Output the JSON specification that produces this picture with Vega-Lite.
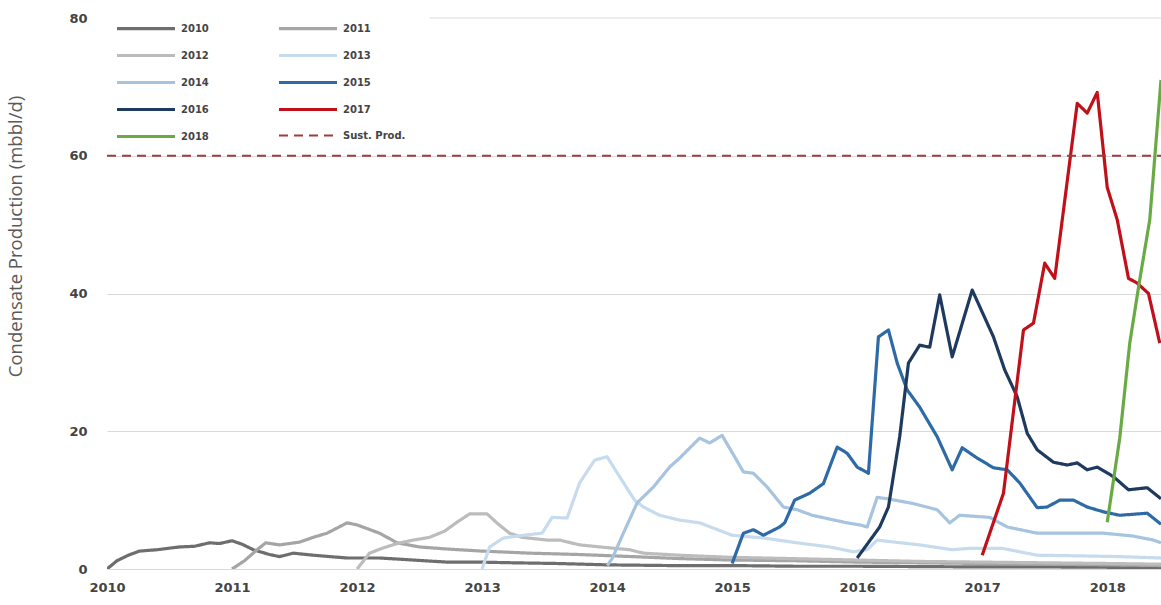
{
"$schema": "https://vega.github.io/schema/vega-lite/v6.json",
"width": 1054, "height": 551,
"autosize": {"type": "none"},
"padding": {"left": 107, "top": 18, "right": 0, "bottom": 36},
"background": "white",
"config": {"view": {"stroke": null}},
"datasets": {
"d": [
{"s":"2010","t":2010.0,"v":0},{"s":"2010","t":2010.08,"v":1.2},{"s":"2010","t":2010.17,"v":2.0},{"s":"2010","t":2010.26,"v":2.6},{"s":"2010","t":2010.4,"v":2.8},{"s":"2010","t":2010.58,"v":3.2},{"s":"2010","t":2010.7,"v":3.3},{"s":"2010","t":2010.82,"v":3.8},{"s":"2010","t":2010.9,"v":3.7},{"s":"2010","t":2011.0,"v":4.1},{"s":"2010","t":2011.08,"v":3.6},{"s":"2010","t":2011.17,"v":2.8},{"s":"2010","t":2011.3,"v":2.1},{"s":"2010","t":2011.38,"v":1.8},{"s":"2010","t":2011.49,"v":2.3},{"s":"2010","t":2011.65,"v":2.0},{"s":"2010","t":2011.92,"v":1.6},{"s":"2010","t":2012.18,"v":1.6},{"s":"2010","t":2012.45,"v":1.3},{"s":"2010","t":2012.72,"v":1.0},{"s":"2010","t":2012.98,"v":1.0},{"s":"2010","t":2013.25,"v":0.9},{"s":"2010","t":2013.6,"v":0.8},{"s":"2010","t":2014.0,"v":0.6},{"s":"2010","t":2014.5,"v":0.5},{"s":"2010","t":2015.0,"v":0.5},{"s":"2010","t":2015.5,"v":0.4},{"s":"2010","t":2016.0,"v":0.4},{"s":"2010","t":2016.5,"v":0.35},{"s":"2010","t":2017.0,"v":0.3},{"s":"2010","t":2017.5,"v":0.3},{"s":"2010","t":2018.0,"v":0.25},{"s":"2010","t":2018.43,"v":0.2},
{"s":"2011","t":2011.0,"v":0},{"s":"2011","t":2011.1,"v":1.2},{"s":"2011","t":2011.2,"v":2.8},{"s":"2011","t":2011.27,"v":3.8},{"s":"2011","t":2011.38,"v":3.5},{"s":"2011","t":2011.54,"v":3.9},{"s":"2011","t":2011.65,"v":4.6},{"s":"2011","t":2011.76,"v":5.2},{"s":"2011","t":2011.92,"v":6.7},{"s":"2011","t":2012.0,"v":6.4},{"s":"2011","t":2012.18,"v":5.2},{"s":"2011","t":2012.32,"v":3.8},{"s":"2011","t":2012.5,"v":3.2},{"s":"2011","t":2012.72,"v":2.9},{"s":"2011","t":2013.0,"v":2.6},{"s":"2011","t":2013.38,"v":2.3},{"s":"2011","t":2013.78,"v":2.1},{"s":"2011","t":2014.2,"v":1.8},{"s":"2011","t":2014.6,"v":1.5},{"s":"2011","t":2015.0,"v":1.3},{"s":"2011","t":2015.5,"v":1.2},{"s":"2011","t":2016.0,"v":1.0},{"s":"2011","t":2016.5,"v":0.9},{"s":"2011","t":2017.0,"v":0.8},{"s":"2011","t":2017.5,"v":0.7},{"s":"2011","t":2018.0,"v":0.6},{"s":"2011","t":2018.43,"v":0.5},
{"s":"2012","t":2012.0,"v":0},{"s":"2012","t":2012.1,"v":2.3},{"s":"2012","t":2012.2,"v":3.0},{"s":"2012","t":2012.32,"v":3.7},{"s":"2012","t":2012.45,"v":4.2},{"s":"2012","t":2012.58,"v":4.6},{"s":"2012","t":2012.7,"v":5.5},{"s":"2012","t":2012.8,"v":6.8},{"s":"2012","t":2012.9,"v":8.0},{"s":"2012","t":2013.04,"v":8.0},{"s":"2012","t":2013.13,"v":6.5},{"s":"2012","t":2013.22,"v":5.2},{"s":"2012","t":2013.32,"v":4.6},{"s":"2012","t":2013.52,"v":4.2},{"s":"2012","t":2013.62,"v":4.2},{"s":"2012","t":2013.78,"v":3.5},{"s":"2012","t":2014.0,"v":3.1},{"s":"2012","t":2014.18,"v":2.8},{"s":"2012","t":2014.29,"v":2.3},{"s":"2012","t":2014.58,"v":2.0},{"s":"2012","t":2014.98,"v":1.7},{"s":"2012","t":2015.5,"v":1.5},{"s":"2012","t":2016.0,"v":1.3},{"s":"2012","t":2016.5,"v":1.1},{"s":"2012","t":2017.0,"v":1.0},{"s":"2012","t":2017.5,"v":0.9},{"s":"2012","t":2018.0,"v":0.8},{"s":"2012","t":2018.43,"v":0.7},
{"s":"2013","t":2013.0,"v":0},{"s":"2013","t":2013.06,"v":3.2},{"s":"2013","t":2013.17,"v":4.5},{"s":"2013","t":2013.33,"v":4.9},{"s":"2013","t":2013.48,"v":5.2},{"s":"2013","t":2013.56,"v":7.5},{"s":"2013","t":2013.68,"v":7.4},{"s":"2013","t":2013.78,"v":12.5},{"s":"2013","t":2013.9,"v":15.8},{"s":"2013","t":2014.0,"v":16.3},{"s":"2013","t":2014.1,"v":13.4},{"s":"2013","t":2014.22,"v":10},{"s":"2013","t":2014.29,"v":9},{"s":"2013","t":2014.42,"v":7.8},{"s":"2013","t":2014.58,"v":7.1},{"s":"2013","t":2014.74,"v":6.7},{"s":"2013","t":2015.0,"v":4.9},{"s":"2013","t":2015.25,"v":4.5},{"s":"2013","t":2015.52,"v":3.8},{"s":"2013","t":2015.78,"v":3.2},{"s":"2013","t":2015.97,"v":2.5},{"s":"2013","t":2016.08,"v":2.8},{"s":"2013","t":2016.16,"v":4.2},{"s":"2013","t":2016.3,"v":3.9},{"s":"2013","t":2016.5,"v":3.5},{"s":"2013","t":2016.76,"v":2.8},{"s":"2013","t":2016.9,"v":3.0},{"s":"2013","t":2017.16,"v":3.0},{"s":"2013","t":2017.3,"v":2.5},{"s":"2013","t":2017.44,"v":2.0},{"s":"2013","t":2017.8,"v":1.9},{"s":"2013","t":2018.1,"v":1.8},{"s":"2013","t":2018.43,"v":1.6},
{"s":"2014","t":2014.0,"v":0.5},{"s":"2014","t":2014.04,"v":1.5},{"s":"2014","t":2014.13,"v":5.2},{"s":"2014","t":2014.24,"v":9.6},{"s":"2014","t":2014.37,"v":11.9},{"s":"2014","t":2014.5,"v":14.8},{"s":"2014","t":2014.58,"v":16.1},{"s":"2014","t":2014.74,"v":19},{"s":"2014","t":2014.82,"v":18.3},{"s":"2014","t":2014.92,"v":19.4},{"s":"2014","t":2015.09,"v":14.1},{"s":"2014","t":2015.17,"v":13.9},{"s":"2014","t":2015.28,"v":11.9},{"s":"2014","t":2015.41,"v":9.0},{"s":"2014","t":2015.52,"v":8.6},{"s":"2014","t":2015.64,"v":7.8},{"s":"2014","t":2015.92,"v":6.7},{"s":"2014","t":2016.02,"v":6.4},{"s":"2014","t":2016.08,"v":6.1},{"s":"2014","t":2016.16,"v":10.4},{"s":"2014","t":2016.24,"v":10.2},{"s":"2014","t":2016.45,"v":9.5},{"s":"2014","t":2016.64,"v":8.6},{"s":"2014","t":2016.74,"v":6.7},{"s":"2014","t":2016.82,"v":7.8},{"s":"2014","t":2017.06,"v":7.5},{"s":"2014","t":2017.2,"v":6.1},{"s":"2014","t":2017.44,"v":5.2},{"s":"2014","t":2017.97,"v":5.2},{"s":"2014","t":2018.2,"v":4.8},{"s":"2014","t":2018.37,"v":4.2},{"s":"2014","t":2018.43,"v":3.8},
{"s":"2015","t":2015.0,"v":0.8},{"s":"2015","t":2015.09,"v":5.2},{"s":"2015","t":2015.17,"v":5.7},{"s":"2015","t":2015.25,"v":4.9},{"s":"2015","t":2015.38,"v":6.1},{"s":"2015","t":2015.42,"v":6.7},{"s":"2015","t":2015.5,"v":10},{"s":"2015","t":2015.62,"v":11},{"s":"2015","t":2015.73,"v":12.4},{"s":"2015","t":2015.84,"v":17.7},{"s":"2015","t":2015.92,"v":16.8},{"s":"2015","t":2016.0,"v":14.8},{"s":"2015","t":2016.09,"v":13.9},{"s":"2015","t":2016.17,"v":33.7},{"s":"2015","t":2016.25,"v":34.7},{"s":"2015","t":2016.32,"v":29.9},{"s":"2015","t":2016.4,"v":26},{"s":"2015","t":2016.5,"v":23.5},{"s":"2015","t":2016.64,"v":19.2},{"s":"2015","t":2016.76,"v":14.4},{"s":"2015","t":2016.84,"v":17.6},{"s":"2015","t":2016.96,"v":16.1},{"s":"2015","t":2017.09,"v":14.7},{"s":"2015","t":2017.2,"v":14.4},{"s":"2015","t":2017.3,"v":12.5},{"s":"2015","t":2017.44,"v":8.9},{"s":"2015","t":2017.52,"v":9},{"s":"2015","t":2017.62,"v":10},{"s":"2015","t":2017.73,"v":10},{"s":"2015","t":2017.84,"v":9},{"s":"2015","t":2017.97,"v":8.3},{"s":"2015","t":2018.1,"v":7.8},{"s":"2015","t":2018.32,"v":8.1},{"s":"2015","t":2018.43,"v":6.5},
{"s":"2016","t":2016.0,"v":1.6},{"s":"2016","t":2016.18,"v":6.1},{"s":"2016","t":2016.25,"v":9},{"s":"2016","t":2016.34,"v":19.2},{"s":"2016","t":2016.41,"v":29.9},{"s":"2016","t":2016.5,"v":32.5},{"s":"2016","t":2016.58,"v":32.2},{"s":"2016","t":2016.66,"v":39.8},{"s":"2016","t":2016.76,"v":30.8},{"s":"2016","t":2016.92,"v":40.5},{"s":"2016","t":2017.09,"v":33.7},{"s":"2016","t":2017.18,"v":28.9},{"s":"2016","t":2017.28,"v":25},{"s":"2016","t":2017.36,"v":19.7},{"s":"2016","t":2017.44,"v":17.3},{"s":"2016","t":2017.57,"v":15.5},{"s":"2016","t":2017.68,"v":15.1},{"s":"2016","t":2017.76,"v":15.4},{"s":"2016","t":2017.84,"v":14.4},{"s":"2016","t":2017.92,"v":14.8},{"s":"2016","t":2018.05,"v":13.4},{"s":"2016","t":2018.17,"v":11.5},{"s":"2016","t":2018.32,"v":11.8},{"s":"2016","t":2018.43,"v":10.2},
{"s":"2017","t":2017.0,"v":2},{"s":"2017","t":2017.17,"v":11},{"s":"2017","t":2017.33,"v":34.7},{"s":"2017","t":2017.41,"v":35.7},{"s":"2017","t":2017.5,"v":44.4},{"s":"2017","t":2017.58,"v":42.2},{"s":"2017","t":2017.76,"v":67.6},{"s":"2017","t":2017.84,"v":66.2},{"s":"2017","t":2017.92,"v":69.2},{"s":"2017","t":2018.0,"v":55.4},{"s":"2017","t":2018.08,"v":50.7},{"s":"2017","t":2018.17,"v":42.2},{"s":"2017","t":2018.24,"v":41.5},{"s":"2017","t":2018.33,"v":40},{"s":"2017","t":2018.42,"v":32.8},
{"s":"2018","t":2018.0,"v":6.8},{"s":"2018","t":2018.1,"v":19},{"s":"2018","t":2018.18,"v":32.8},{"s":"2018","t":2018.26,"v":42},{"s":"2018","t":2018.34,"v":50.7},{"s":"2018","t":2018.43,"v":71},
{"s":"Sust. Prod.","t":2010.0,"v":60},{"s":"Sust. Prod.","t":2018.43,"v":60}
],
"g": [{"t":2012.58,"t2":2018.43,"v":80}]
},
"layer": [
{
"data": {"name": "g"},
"mark": {"type": "rule", "color": "#d9d9d9", "strokeWidth": 1},
"encoding": {
"x": {"field": "t", "type": "quantitative"},
"x2": {"field": "t2"},
"y": {"field": "v", "type": "quantitative"}
}
},
{
"data": {"name": "d"},
"mark": {"type": "line", "clip": true, "strokeJoin": "round"},
"encoding": {
"x": {"field": "t", "type": "quantitative",
"scale": {"domain": [2010, 2018.43], "nice": false, "zero": false},
"axis": {"values": [2010,2011,2012,2013,2014,2015,2016,2017,2018], "format": "d", "grid": false, "domain": false, "ticks": false, "labelPadding": 12, "title": null, "labelFont": "DejaVu Sans", "labelFontSize": 13, "labelFontWeight": "bold", "labelColor": "#444444", "labelFlush": false}},
"y": {"field": "v", "type": "quantitative",
"scale": {"domain": [0, 80], "nice": false},
"axis": {"values": [0,20,40,60,80], "grid": true, "gridColor": "#d9d9d9", "gridWidth": 1, "gridOpacity": {"condition": {"test": "datum.value >= 80", "value": 0}, "value": 1}, "domain": false, "ticks": false, "labelPadding": 20, "labelFont": "DejaVu Sans", "labelFontSize": 13, "labelFontWeight": "bold", "labelColor": "#444444", "title": "Condensate Production (mbbl/d)", "titleFont": "Open Sans", "titleFontSize": 18.5, "titleFontWeight": "normal", "titleColor": "#595959", "titleX": -92, "titleY": 218, "titleAngle": -90, "titleAlign": "center", "titleBaseline": "middle"}},
"color": {"field": "s", "type": "nominal",
"scale": {"domain": ["2010","2011","2012","2013","2014","2015","2016","2017","2018","Sust. Prod."],
"range": ["#6e6e6e","#a5a5a5","#bcbcbc","#c7dbee","#a6c3df","#2e6aa6","#1e3a5f","#c0101a","#6aaa45","#a03c3c"]},
"legend": {"orient": "none", "legendX": 37, "legendY": -6, "columns": 2, "direction": "horizontal", "title": null, "symbolType": "M-3,0H1", "symbolSize": 841, "labelFont": "DejaVu Sans", "labelFontSize": 10, "labelFontWeight": "bold", "labelColor": "#444444", "labelOffset": 4, "columnPadding": 63, "rowPadding": 4, "padding": 0}},
"strokeDash": {"field": "s", "type": "nominal",
"scale": {"domain": ["2010","2011","2012","2013","2014","2015","2016","2017","2018","Sust. Prod."],
"range": [[1,0],[1,0],[1,0],[1,0],[1,0],[1,0],[1,0],[1,0],[1,0],[9,6]]}},
"strokeWidth": {"field": "s", "type": "nominal",
"scale": {"type": "ordinal", "domain": ["2010","2011","2012","2013","2014","2015","2016","2017","2018","Sust. Prod."],
"range": [3.2,3.2,3.2,3.2,3.2,3.2,3.2,3.2,3.2,1.8]}}
}
}
]
}
